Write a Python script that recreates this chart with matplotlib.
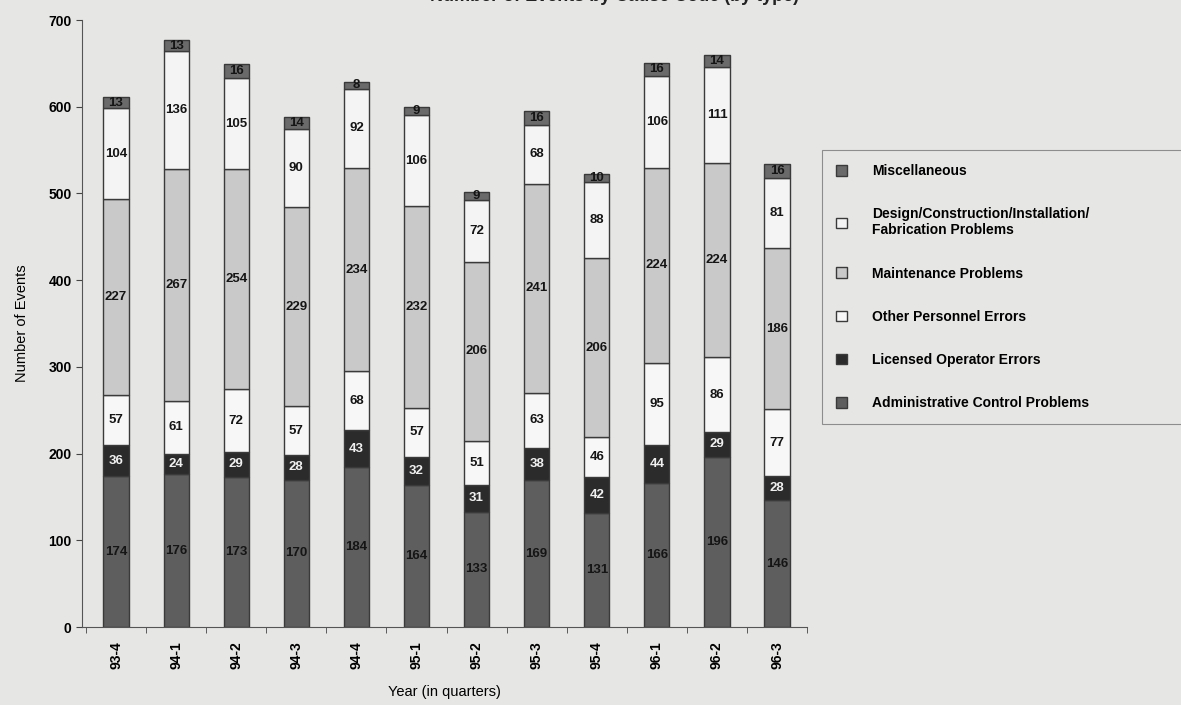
import numpy as np
import matplotlib.pyplot as plt

plt.rcParams['font.family'] = ['Liberation Sans', 'DejaVu Sans']
plt.rcParams['font.weight'] = 'bold'

quarters = ['93-4', '94-1', '94-2', '94-3', '94-4', '95-1',
            '95-2', '95-3', '95-4', '96-1', '96-2', '96-3']

admin = [174, 176, 173, 170, 184, 164, 133, 169, 131, 166, 196, 146]
licensed = [36, 24, 29, 28, 43, 32, 31, 38, 42, 44, 29, 28]
other = [57, 61, 72, 57, 68, 57, 51, 63, 46, 95, 86, 77]
maint = [227, 267, 254, 229, 234, 232, 206, 241, 206, 224, 224, 186]
design = [104, 136, 105, 90, 92, 106, 72, 68, 88, 106, 111, 81]
misc = [13, 13, 16, 14, 8, 9, 9, 16, 10, 16, 14, 16]

series = [
    ('Administrative Control Problems', admin, '#5e5e5e', '#151515'),
    ('Licensed Operator Errors', licensed, '#2b2b2b', '#f0f0f0'),
    ('Other Personnel Errors', other, '#f7f7f7', '#151515'),
    ('Maintenance Problems', maint, '#c9c9c9', '#151515'),
    ('Design/Construction/Installation/\nFabrication Problems', design, '#f4f4f4', '#151515'),
    ('Miscellaneous', misc, '#6a6a6a', '#151515'),
]

bg = '#e6e6e4'
fig = plt.figure(figsize=(11.81, 7.05), dpi=100, facecolor=bg)
ax = fig.add_axes([0.0694, 0.1106, 0.614, 0.861], facecolor=bg)

x = np.arange(len(quarters))
bottom = np.zeros(len(quarters))
handles = []
for name, vals, col, tcol in series:
    bars = ax.bar(x, vals, 0.42, bottom=bottom, color=col, edgecolor='#3a3a3a',
                  linewidth=1.0, label=name)
    for xi, b, v in zip(x, bottom, vals):
        ax.text(xi, b + v / 2, str(v), ha='center', va='center',
                fontsize=9.5, color=tcol, fontweight='bold')
    bottom += np.array(vals)
    handles.append(bars)

ax.set_xlim(-0.567, len(quarters) - 0.5)
ax.set_ylim(0, 700)
ax.set_yticks(range(0, 701, 100))
ax.set_xticks(x)
ax.set_xticklabels(quarters, rotation=90, fontsize=10)
ax.set_xticks(np.arange(-0.5, len(quarters)), minor=True)
ax.tick_params(axis='x', which='major', length=0, pad=10)
ax.tick_params(axis='x', which='minor', length=4, color='#444444')
ax.tick_params(axis='y', labelsize=10, length=4, color='#444444')
for s in ['top', 'right']:
    ax.spines[s].set_visible(False)
for s in ['left', 'bottom']:
    ax.spines[s].set_color('#555555')

ax.set_ylabel('Number of Events', fontsize=10.5, labelpad=14)
ax.set_xlabel('Year (in quarters)', fontsize=10.5, labelpad=12)

leg = fig.legend(handles[::-1], [s[0] for s in series][::-1],
                 loc='upper left', bbox_to_anchor=(0.696, 0.01, 0.31, 0.777),
                 mode='expand', frameon=True, fontsize=10, handlelength=0.8,
                 handleheight=0.8, labelspacing=2.1, borderpad=1.0,
                 handletextpad=1.8, borderaxespad=0.0,
                 fancybox=False, facecolor=bg, edgecolor='#777777')
leg.get_frame().set_linewidth(0.8)

fig.text(0.52, 1.005, 'Number of Events by Cause Code (by type)', ha='center',
         va='center', fontsize=13, color='#222222')

plt.savefig('out.png', dpi=100, facecolor=bg)
